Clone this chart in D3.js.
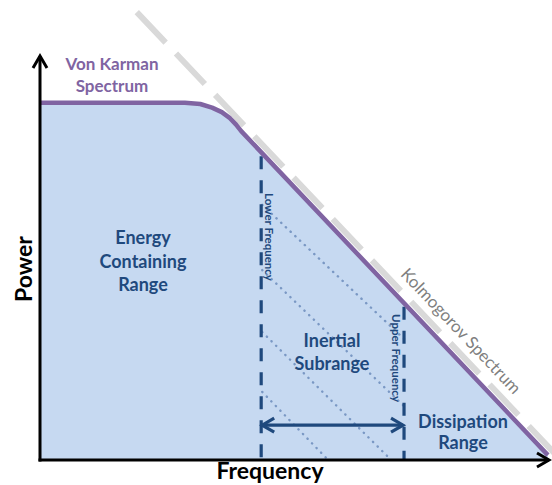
<!DOCTYPE html>
<html>
<head>
<meta charset="utf-8">
<script src="https://cdn.jsdelivr.net/npm/d3@7"></script>
<style>
html, body { margin: 0; padding: 0; background: #fff; }
svg { display: block; font-family: Lato, "Open Sans", sans-serif; }
</style>
</head>
<body>
<div id="chart"></div>
<script>
// conceptual spectrum, arbitrary frequency / power units (0-100)
const vonKarmanFreq = [0, 28.3, 31.3, 33.6, 35.5, 37.1, 38.3, 39.3, 99.2];
const vonKarmanPower = [88.2, 88.2, 87.9, 87.0, 85.9, 84.4, 82.8, 81.2, 1.2];
const kolmogorovFreq = [18.9, 101];
const kolmogorovPower = [110.6, 1.0];
const boundaryFreq = [43.2, 71.1];      // lower, upper frequency
const boundaryTop = [76.0, 38.8];
const arrowPower = 8.6;
const hatchFreqStart = [43.4, 43.4, 43.4, 43.4];
const hatchPowerStart = [63.0, 46.9, 31.6, 16.8];
const hatchFreqEnd = [71.1, 71.1, 68.2, 55.9];
const hatchPowerEnd = [29.9, 13.3, 0.5, 0.5];

const rangeLabels = [["Energy", "Containing", "Range"], ["Inertial", "Subrange"], ["Dissipation", "Range"]];
const boundaryLabels = ["Lower Frequency", "Upper Frequency"];
const vonKarmanLabel = ["Von Karman", "Spectrum"];
const kolmogorovLabel = "Kolmogorov Spectrum";
const axisLabels = ["Frequency", "Power"];

const width = 552, height = 485;
const blue = "#1f497d", purple = "#8064a2", fillBlue = "#c6d9f1", grey = "#d9d9d9";

const svg = d3.select("#chart").append("svg")
    .attr("width", width)
    .attr("height", height);

const x = d3.scaleLinear().domain([0, 100]).range([40, 552]);
const y = d3.scaleLinear().domain([0, 100]).range([460, 55]);

// chevron markers
const defs = svg.append("defs");
function chevron(id, color, w) {
    defs.append("marker")
        .attr("id", id)
        .attr("viewBox", "-16 -10 20 20")
        .attr("markerUnits", "userSpaceOnUse")
        .attr("markerWidth", 20).attr("markerHeight", 20)
        .attr("refX", 0).attr("refY", 0)
        .attr("orient", "auto-start-reverse")
        .append("path")
        .attr("d", "M-12,-7L0,0L-12,7")
        .attr("fill", "none")
        .attr("stroke", color)
        .attr("stroke-width", w);
}
chevron("arrBlack", "#000", 3);
chevron("arrBlue", blue, 3.2);

const vk = vonKarmanFreq.map((f, i) => [f, vonKarmanPower[i]]);

svg.append("path")
    .datum(vk)
    .attr("d", d3.area().x(d => x(d[0])).y0(y(0)).y1(d => y(d[1])))
    .attr("fill", fillBlue);

// dotted hatch lines in the inertial subrange
hatchFreqStart.forEach((f, i) => {
    svg.append("line")
        .attr("x1", x(f)).attr("y1", y(hatchPowerStart[i]))
        .attr("x2", x(hatchFreqEnd[i])).attr("y2", y(hatchPowerEnd[i]))
        .attr("stroke", "#7a98c4")
        .attr("stroke-width", 2.4)
        .attr("stroke-linecap", "round")
        .attr("stroke-dasharray", "0.3 6.2");
});

// lower / upper frequency boundaries
boundaryFreq.forEach((f, i) => {
    svg.append("line")
        .attr("x1", x(f)).attr("y1", y(boundaryTop[i]) + 4)
        .attr("x2", x(f)).attr("y2", y(0))
        .attr("stroke", blue)
        .attr("stroke-width", 3.2)
        .attr("stroke-dasharray", "13 11");
});

// Kolmogorov line
svg.append("line")
    .attr("x1", x(kolmogorovFreq[0])).attr("y1", y(kolmogorovPower[0]))
    .attr("x2", x(kolmogorovFreq[1])).attr("y2", y(kolmogorovPower[1]))
    .attr("stroke", grey)
    .attr("stroke-width", 6)
    .attr("stroke-dasharray", "42 15");

// Von Karman line
svg.append("path")
    .datum(vk)
    .attr("d", d3.line().x(d => x(d[0])).y(d => y(d[1])))
    .attr("fill", "none")
    .attr("stroke", purple)
    .attr("stroke-width", 4.5)
    .attr("stroke-linejoin", "round");

// inertial range arrow
svg.append("line")
    .attr("x1", x(boundaryFreq[0]) + 1).attr("y1", y(arrowPower))
    .attr("x2", x(boundaryFreq[1]) - 1).attr("y2", y(arrowPower))
    .attr("stroke", blue)
    .attr("stroke-width", 3.2)
    .attr("marker-start", "url(#arrBlue)")
    .attr("marker-end", "url(#arrBlue)");

// axes
svg.append("line")
    .attr("x1", x(0)).attr("y1", y(0) + 1.5)
    .attr("x2", x(0)).attr("y2", y(100) + 1)
    .attr("stroke", "#000").attr("stroke-width", 3)
    .attr("marker-end", "url(#arrBlack)");
svg.append("line")
    .attr("x1", x(0) - 1.5).attr("y1", y(0))
    .attr("x2", x(100) - 3).attr("y2", y(0))
    .attr("stroke", "#000").attr("stroke-width", 3)
    .attr("marker-end", "url(#arrBlack)");

// text
function block(lines, cx, y0, dy, color, size) {
    const t = svg.append("text")
        .attr("text-anchor", "middle")
        .attr("font-weight", "bold")
        .attr("font-size", size)
        .attr("fill", color);
    lines.forEach((s, i) => t.append("tspan").attr("x", cx).attr("y", y0 + i * dy).text(s));
}
block(vonKarmanLabel, 112, 70, 22, purple, 17);
block(rangeLabels[0], 143, 244, 23.5, blue, 18);
block(rangeLabels[1], 332, 347, 23, blue, 18);
block(rangeLabels[2], 463, 428, 21, blue, 18);

[[269, 237], [396, 358]].forEach((p, i) => {
    svg.append("text")
        .attr("transform", `translate(${p[0]},${p[1]}) rotate(90)`)
        .attr("text-anchor", "middle")
        .attr("dy", "0.35em")
        .attr("font-weight", "bold")
        .attr("font-size", 11.5)
        .attr("fill", blue)
        .text(boundaryLabels[i]);
});

const ang = Math.atan2(y(kolmogorovPower[1]) - y(kolmogorovPower[0]),
    x(kolmogorovFreq[1]) - x(kolmogorovFreq[0])) * 180 / Math.PI;
svg.append("text")
    .attr("transform", `translate(461,331) rotate(${ang})`)
    .attr("text-anchor", "middle")
    .attr("dy", "0.35em")
    .attr("font-size", 17)
    .attr("fill", "#7f7f7f")
    .text(kolmogorovLabel);

svg.append("text")
    .attr("x", 270).attr("y", 479)
    .attr("text-anchor", "middle")
    .attr("font-weight", "bold")
    .attr("font-size", 23)
    .text(axisLabels[0]);
svg.append("text")
    .attr("transform", "translate(24,269) rotate(-90)")
    .attr("text-anchor", "middle")
    .attr("dy", "0.35em")
    .attr("font-weight", "bold")
    .attr("font-size", 23)
    .text(axisLabels[1]);
</script>
</body>
</html>
